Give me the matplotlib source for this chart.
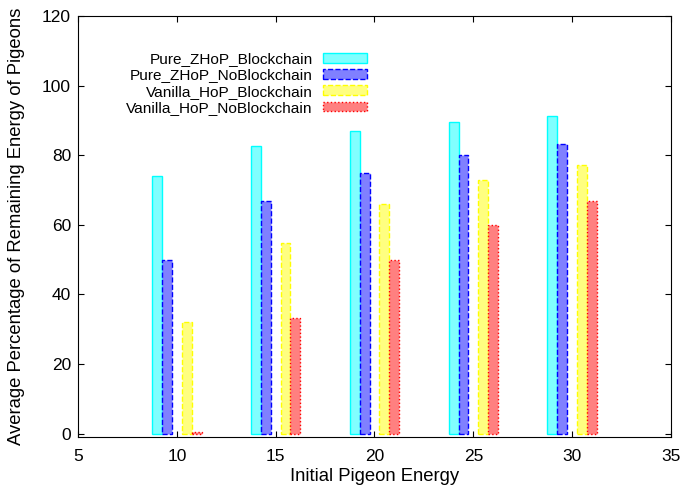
import numpy as np
import matplotlib
matplotlib.use('Agg')
import matplotlib.pyplot as plt

# ====> data
energy = [10, 15, 20, 25, 30]
pure_zhop_bc = [74.0, 82.7, 87.0, 89.6, 91.3]
pure_zhop_nobc = [50.0, 66.7, 75.0, 80.0, 83.3]
vanilla_hop_bc = [32.0, 54.7, 66.0, 72.8, 77.3]
vanilla_hop_nobc = [0.3, 33.3, 50.0, 60.0, 66.7]

series = [
    ('Pure_ZHoP_Blockchain', pure_zhop_bc, -1.0, '#80ffff', '#00ffff', '-'),
    ('Pure_ZHoP_NoBlockchain', pure_zhop_nobc, -0.5, '#8080ff', '#0000ff', '--'),
    ('Vanilla_HoP_Blockchain', vanilla_hop_bc, 0.5, '#ffff80', '#ffff00', '--'),
    ('Vanilla_HoP_NoBlockchain', vanilla_hop_nobc, 1.0, '#ff8080', '#ff0000', ':'),
]

plt.rcParams['font.family'] = ['Liberation Sans', 'DejaVu Sans']

fig = plt.figure(figsize=(6.84, 4.88), dpi=100)
ax = fig.add_axes([0.114, 0.1045, 0.867, 0.8627])

x = np.array(energy, dtype=float)
for name, vals, off, fc, ec, ls in series:
    ax.bar(x + off, vals, width=0.5, color=fc, edgecolor=ec, linestyle=ls,
           linewidth=1.0, label=name)

ax.set_xlim(5, 35)
ax.set_ylim(-1, 120)
ax.set_xticks(np.arange(5, 36, 5))
ax.set_yticks(np.arange(0, 121, 20))
ax.tick_params(direction='in', top=True, right=True, labelsize=12.5, length=4)
ax.tick_params(axis='x', pad=8.5)
ax.tick_params(axis='y', pad=5)
ax.set_xlabel('Initial Pigeon Energy', fontsize=13.3, labelpad=3)
ax.set_ylabel('Average Percentage of Remaining Energy of Pigeons', fontsize=13.3,
              labelpad=12)

ax.legend(loc='upper left', bbox_to_anchor=(0.063, 0.94), frameon=False,
          markerfirst=False, fontsize=11.1, handlelength=2.85, handleheight=0.6,
          labelspacing=0.15, borderpad=0.2, handletextpad=0.65)

plt.savefig('out.png')
plt.close()
